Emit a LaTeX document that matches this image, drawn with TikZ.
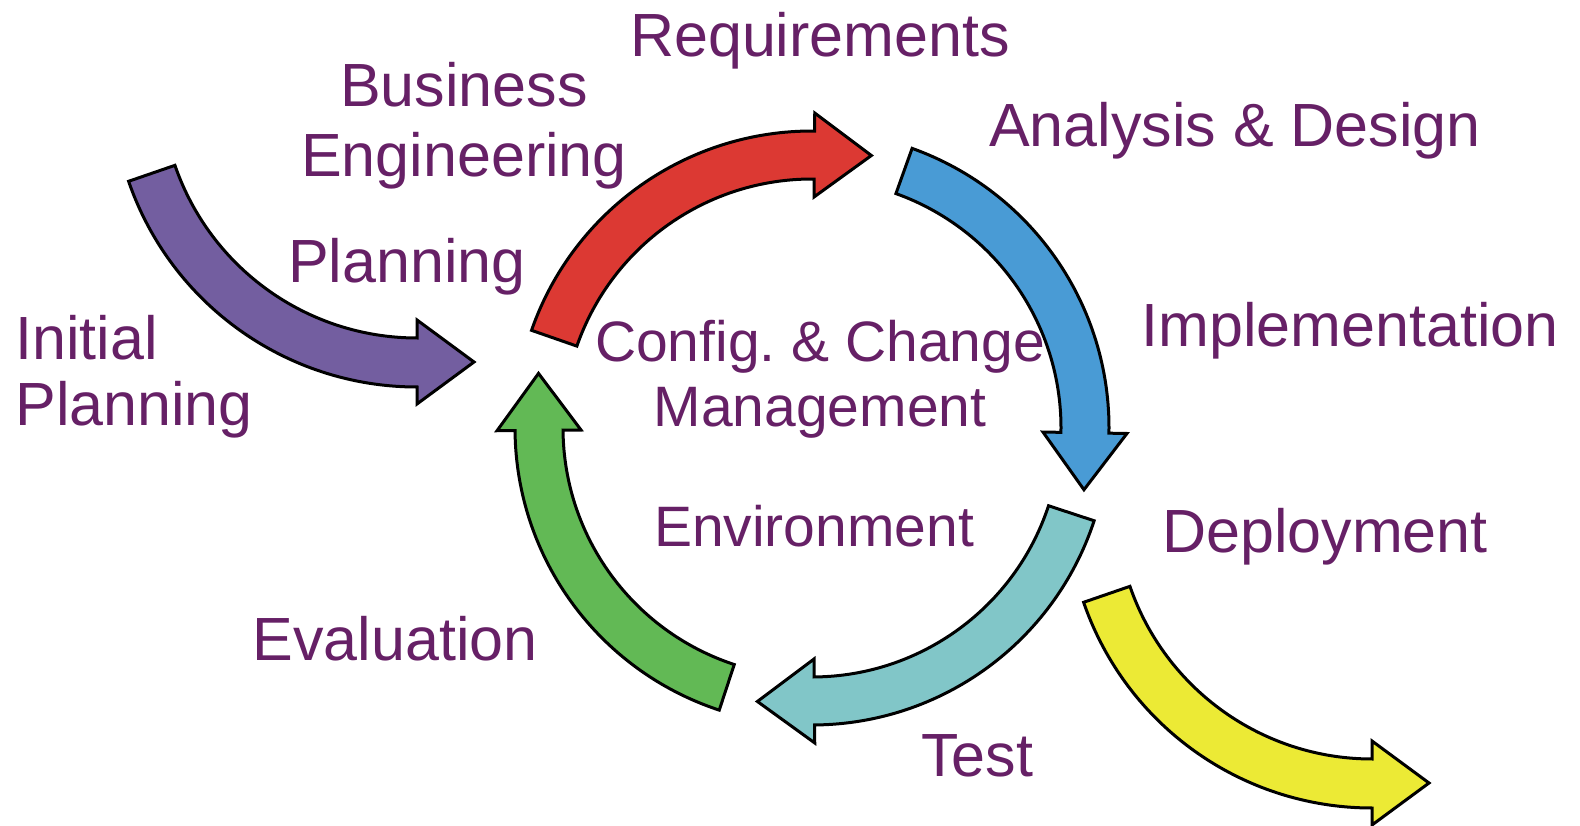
\documentclass[tikz,border=0pt]{standalone}
\usepackage{fontspec}
\setmainfont{Liberation Sans}
\definecolor{phasetext}{RGB}{102,32,102}
\definecolor{reqred}{RGB}{220,57,51}
\definecolor{anablue}{RGB}{73,155,213}
\definecolor{testteal}{RGB}{129,198,200}
\definecolor{evalgreen}{RGB}{98,185,85}
\definecolor{planpurple}{RGB}{115,94,160}
\definecolor{depyellow}{RGB}{236,234,53}
\newcommand{\RingArrow}[2]{%
  \begin{scope}[shift={(812,397)},rotate=#2]
  \draw[band,fill=#1] (71.3:297) arc[start angle=71.3,end angle=0,radius=297]
    -- (315,0) -- (273,-57) -- (231,0) -- (249,0)
    arc[start angle=0,end angle=71.3,radius=249] -- cycle;
  \end{scope}}
\newcommand{\SideArrow}[2]{%
  \begin{scope}[shift={#2}]
  \draw[band,fill=#1] (199:305) arc[start angle=199,end angle=270,radius=305]
    -- (0,-322) -- (57,-280) -- (0,-238) -- (0,-256)
    arc[start angle=270,end angle=199,radius=256] -- cycle;
  \end{scope}}

\begin{document}
\begin{tikzpicture}[x=0.5pt,y=0.5pt,
  band/.style={draw=black,line width=1.5pt,line join=miter},
  phase/.style={text=phasetext,inner sep=0pt,font=\fontsize{30.5}{33}\selectfont},
  core/.style={phase,font=\fontsize{28.5}{32.5}\selectfont}]
\useasboundingbox (0,0) rectangle (1580,825);

\RingArrow{reqred}{89.5}
\RingArrow{anablue}{-1}
\RingArrow{testteal}{-89.5}
\RingArrow{evalgreen}{180.5}
\SideArrow{planpurple}{(417,743)}
\SideArrow{depyellow}{(1372,322)}

\node[phase,anchor=base] (req) at (820,768) {Requirements};
\node[phase,anchor=base,align=center] (bus-eng) at (464,648) {Business\\[2pt]Engineering};
\node[phase,anchor=base] (ana) at (1235,678) {Analysis \& Design};
\node[phase,anchor=base] (plan) at (407,542) {Planning};
\node[phase,anchor=base west,align=left] (init) at (15,399) {Initial\\Planning};
\node[core,anchor=base,align=center] (ccm) at (820,398) {Config.\ \& Change\\Management};
\node[phase,anchor=base] (impl) at (1350,478) {Implementation};
\node[core,anchor=base] (env) at (814,278) {Environment};
\node[phase,anchor=base] (depl) at (1325,272) {Deployment};
\node[phase,anchor=base] (eval) at (395,164) {Evaluation};
\node[phase,anchor=base] (test) at (977,48) {Test};
\end{tikzpicture}
\end{document}
